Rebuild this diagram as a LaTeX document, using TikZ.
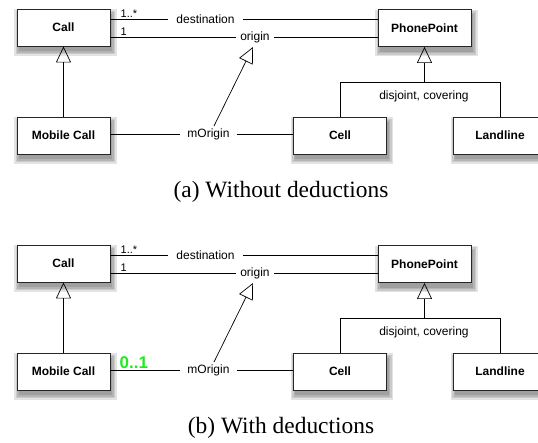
\documentclass[tikz,border=0pt]{standalone}
\usepackage{fontspec}
\setmainfont{Liberation Sans}
\newfontfamily\capfont{Liberation Serif}
\usetikzlibrary{arrows.meta}
\definecolor{deduced}{RGB}{30,235,30}
\pgfdeclarelayer{shadowlayer}
\pgfsetlayers{shadowlayer,main}
\newcommand{\myboxshadow}[1]{%
  \begin{pgfonlayer}{shadowlayer}
    \foreach \g in {0,1.5,3,4.5}{
      \fill[black, opacity=0.11]
        ([shift={(2-\g,5-\g)}]#1.north west) rectangle ([shift={(2+\g,5+\g)}]#1.south east);
    }
  \end{pgfonlayer}}
\begin{document}
\begin{tikzpicture}[x=1pt,y=-1pt,
  umlbox/.style={draw=black!85, line width=0.9pt, fill=white,
    minimum width=93pt, minimum height=37pt, inner sep=0pt,
    font=\bfseries\fontsize{12}{14}\selectfont},
  assoc/.style={line width=0.7pt},
  lbl/.style={inner ysep=1pt, font=\fontsize{12}{14}\selectfont},
  mult/.style={inner sep=0pt, font=\fontsize{11}{13}\selectfont},
  gen/.style={line width=0.7pt, -{Triangle[open, length=16pt, width=15pt, line width=0.7pt]}},
  caption/.style={font=\capfont\fontsize{23.4}{26}\selectfont, anchor=base, inner sep=0pt}]
\useasboundingbox (0,0) rectangle (538,442);
\foreach \p/\dy in {a/0,b/236}{
\begin{scope}[shift={(0,\dy)}]
  \node[umlbox] (\p call) at (63.5,27.5) {Call};
  \node[umlbox] (\p pp) at (424.5,28) {PhonePoint};
  \node[umlbox] (\p mob) at (63.5,135.5) {Mobile Call};
  \node[umlbox] (\p cell) at (340,135.5) {Cell};
  \node[umlbox] (\p land) at (500,135.5) {Landline};
  \myboxshadow{\p call}
  \myboxshadow{\p pp}
  \myboxshadow{\p mob}
  \myboxshadow{\p cell}
  \myboxshadow{\p land}
  % destination
  \node[lbl, inner xsep=8pt] (\p dest) at (205.5,19) {destination};
  \draw[assoc] (\p call.east |- \p dest) -- (\p dest.west);
  \draw[assoc] (\p dest.east) -- (\p pp.west |- \p dest);
  % origin
  \node[lbl, inner xsep=4pt] (\p or) at (255,37) {origin};
  \draw[assoc] (\p call.east |- \p or) -- (\p or.west);
  \draw[assoc] (\p or.east) -- (\p pp.west |- \p or);
  \node[mult, anchor=base west] (\p m1) at (120.5,17) {1..*};
  \node[mult, anchor=base west] (\p m2) at (120.5,35) {1};
  % mOrigin
  \node[lbl, inner xsep=7pt] (\p mo) at (208.5,134) {mOrigin};
  \draw[assoc] (\p mob.east |- \p mo) -- (\p mo.west);
  \draw[assoc] (\p mo.east) -- (\p cell.west |- \p mo);
  \coordinate (\p s) at (214,126);
  \coordinate (\p t) at (253,47);
  \draw[gen] (\p s) -- (\p t);
  % generalisations
  \draw[gen] (\p mob.north) -- (\p call.south);
  \coordinate (\p j) at (424.5,82);
  \draw[assoc] (\p cell.north) |- (\p land.north |- \p j) -- (\p land.north);
  \draw[gen] (\p j) -- (\p pp.south);
  \node[lbl, anchor=base] (\p dc) at (424,99) {disjoint, covering};
\end{scope}
}
\node[font=\bfseries\fontsize{17}{20}\selectfont, text=deduced, anchor=base west, inner sep=0pt] (zo) at (119.5,368) {0..1};
\node[caption] (capa) at (281,197) {(a) Without deductions};
\node[caption] (capb) at (281,433) {(b) With deductions};
\end{tikzpicture}
\end{document}
